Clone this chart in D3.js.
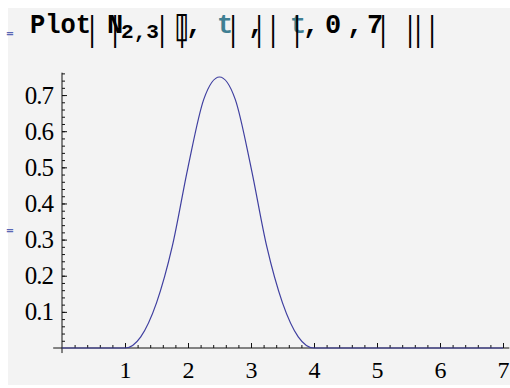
<!DOCTYPE html>
<html lang="en">
  <head>
    <meta charset="UTF-8" />
    <title>Plot N2,3</title>
    <style>
      body {
        margin: 0;
        background: #fff;
      }
    </style>
  </head>
  <body>
    <div class="svg-container"></div>
    <script src="https://cdnjs.cloudflare.com/ajax/libs/d3/7.8.5/d3.min.js"></script>
    <script>
      // values
      var tValues = [0, 0.25, 0.5, 0.75, 1, 1.25, 1.5, 1.75, 2, 2.25, 2.5, 2.75, 3,
        3.25, 3.5, 3.75, 4, 4.5, 5, 5.5, 6, 6.5, 7];
      var nValues = [0, 0, 0, 0, 0, 0.031, 0.125, 0.281, 0.5, 0.688, 0.75, 0.688, 0.5,
        0.281, 0.125, 0.031, 0, 0, 0, 0, 0, 0, 0];
      var xTicks = [1, 2, 3, 4, 5, 6, 7];
      var yTicks = [0.1, 0.2, 0.3, 0.4, 0.5, 0.6, 0.7];
      var xMinor = d3.range(1, 36).map((i) => i / 5);
      var yMinor = d3.range(1, 39).map((i) => i / 50);

      var serif = "'Liberation Serif', serif";
      var mono = "'Liberation Mono', monospace";

      var width = 510,
        height = 388;

      var svg = d3
        .select(".svg-container")
        .append("svg")
        .attr("width", width)
        .attr("height", height);

      // grey notebook background
      svg
        .append("rect")
        .attr("x", 8)
        .attr("y", 8)
        .attr("width", width - 8)
        .attr("height", 377)
        .attr("fill", "#f3f3f3");

      // cell markers on the left
      [34, 231].forEach((yy) => {
        svg
          .append("text")
          .attr("x", 10)
          .attr("y", yy + 3)
          .attr("text-anchor", "middle")
          .style("font-family", "'DejaVu Sans', sans-serif")
          .style("font-size", "10px")
          .style("font-weight", "bold")
          .style("fill", "#5866b4")
          .text("=");
      });

      // input line: Plot[N2,3[□, t], {t, 0, 7}] as it shows on screen
      var title = svg.append("g");
      var base = 33;
      title
        .append("text")
        .attr("x", 30)
        .attr("y", base)
        .attr("textLength", 61)
        .attr("lengthAdjust", "spacingAndGlyphs")
        .style("font-family", mono)
        .style("font-weight", "bold")
        .style("font-size", "27px")
        .text("Plot");
      var chars = [
        { s: "N", x: 115, c: "#000" },
        { s: ",", x: 194, c: "#000" },
        { s: "t", x: 225, c: "#3f7f93" },
        { s: ",", x: 256, c: "#000" },
        { s: "t", x: 298, c: "#3f7f93" },
        { s: ",", x: 311, c: "#000" },
        { s: "0", x: 333, c: "#000" },
        { s: ",", x: 355, c: "#000" },
        { s: "7", x: 375, c: "#000" }
      ];
      chars.forEach((d) => {
        title
          .append("text")
          .attr("x", d.x)
          .attr("y", base)
          .attr("text-anchor", "middle")
          .style("font-family", mono)
          .style("font-weight", "bold")
          .style("font-size", "27px")
          .style("fill", d.c)
          .text(d.s);
      });
      title
        .append("text")
        .attr("x", 121)
        .attr("y", 38)
        .attr("textLength", 38)
        .attr("lengthAdjust", "spacingAndGlyphs")
        .style("font-family", mono)
        .style("font-weight", "bold")
        .style("font-size", "20px")
        .text("2,3");
      title
        .append("text")
        .attr("transform", "translate(182,37) scale(1,1.3)")
        .attr("text-anchor", "middle")
        .style("font-family", "'DejaVu Sans', sans-serif")
        .style("font-size", "28px")
        .style("font-weight", "bold")
        .text("\u25AF");
      [92, 115, 162, 182, 233, 259, 273, 297, 383, 410, 418, 432].forEach((bx) => {
        title
          .append("text")
          .attr("transform", "translate(" + bx + ",41) scale(1,1.5)")
          .attr("text-anchor", "middle")
          .style("font-family", "'Liberation Sans', sans-serif")
          .style("font-size", "24px")
          .style("fill", "#000")
          .text("|");
      });

      // scales
      var x = d3.scaleLinear().domain([0, 7]).range([62, 503]),
        y = d3.scaleLinear().domain([0, 0.75]).range([348, 77]);

      // axes lines
      svg
        .append("line")
        .attr("x1", x(-0.14))
        .attr("x2", x(7.1))
        .attr("y1", y(0))
        .attr("y2", y(0))
        .attr("stroke", "#111");
      svg
        .append("line")
        .attr("x1", x(0))
        .attr("x2", x(0))
        .attr("y1", y(-0.014))
        .attr("y2", y(0.762))
        .attr("stroke", "#111");

      // x axis: minor then major
      svg
        .append("g")
        .attr("transform", "translate(0," + y(0) + ")")
        .call(d3.axisBottom(x).tickValues(xMinor).tickSizeInner(-3).tickSizeOuter(0).tickFormat(""))
        .call((g) => g.select(".domain").remove())
        .call((g) => g.selectAll("line").attr("stroke", "#111"));
      svg
        .append("g")
        .attr("transform", "translate(0," + y(0) + ")")
        .call(d3.axisBottom(x).tickValues(xTicks).tickSizeInner(-5).tickSizeOuter(0).tickPadding(13).tickFormat(d3.format("d")))
        .attr("font-family", serif)
        .attr("font-size", 24)
        .call((g) => g.select(".domain").remove())
        .call((g) => g.selectAll("line").attr("stroke", "#111"))
        .call((g) => g.selectAll("text").style("font-family", serif).style("font-size", "24px").style("fill", "#000"));

      // y axis: minor then major
      svg
        .append("g")
        .attr("transform", "translate(" + x(0) + ",0)")
        .call(d3.axisLeft(y).tickValues(yMinor).tickSizeInner(-3).tickSizeOuter(0).tickFormat(""))
        .call((g) => g.select(".domain").remove())
        .call((g) => g.selectAll("line").attr("stroke", "#111"));
      svg
        .append("g")
        .attr("transform", "translate(" + x(0) + ",0)")
        .call(d3.axisLeft(y).tickValues(yTicks).tickSizeInner(-5).tickSizeOuter(0).tickPadding(9).tickFormat(d3.format(".1f")))
        .attr("font-family", serif)
        .attr("font-size", 25)
        .call((g) => g.select(".domain").remove())
        .call((g) => g.selectAll("line").attr("stroke", "#111"))
        .call((g) => g.selectAll("text").style("font-family", serif).style("font-size", "25px").style("letter-spacing", "-1px").style("fill", "#000"));

      // the curve
      var line = d3
        .line()
        .curve(d3.curveMonotoneX)
        .x((d, i) => x(tValues[i]))
        .y((d) => y(d));

      svg
        .append("path")
        .datum(nValues)
        .attr("fill", "none")
        .attr("stroke", "#3f3fa0")
        .attr("stroke-width", 1.2)
        .attr("d", line);
    </script>
  </body>
</html>
